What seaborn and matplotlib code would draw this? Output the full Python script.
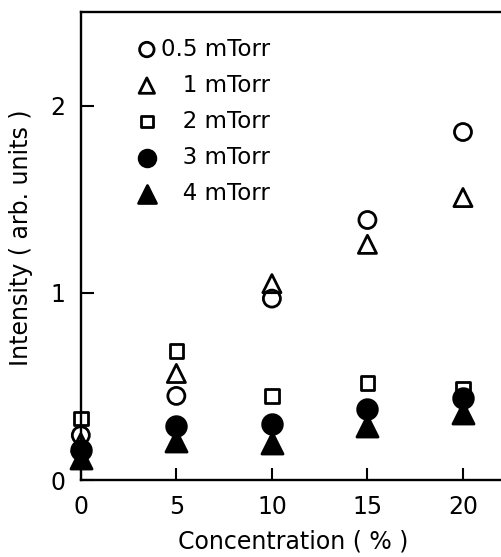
import matplotlib as mpl
import matplotlib.pyplot as plt
import pandas as pd
import seaborn as sns

mpl.use("Agg")

# Data
concentration = [0, 5, 10, 15, 20]
p05_mtorr = [0.24, 0.45, 0.97, 1.39, 1.86]
p1_mtorr = [0.20, 0.57, 1.05, 1.26, 1.51]
p2_mtorr = [0.33, 0.69, 0.45, 0.52, 0.49]
p3_mtorr = [0.16, 0.29, 0.30, 0.38, 0.44]
p4_mtorr = [0.12, 0.21, 0.20, 0.29, 0.36]

series_labels = ["0.5 mTorr", "   1 mTorr", "   2 mTorr", "   3 mTorr", "   4 mTorr"]
series_values = [p05_mtorr, p1_mtorr, p2_mtorr, p3_mtorr, p4_mtorr]
series_markers = ["o", "^", "s", "o", "^"]
series_filled = [False, False, False, True, True]
series_sizes = [150, 170, 95, 200, 230]


def main():
    sns.set_theme(
        style="ticks",
        rc={
            "text.color": "black",
            "axes.labelcolor": "black",
            "xtick.color": "black",
            "ytick.color": "black",
            "axes.edgecolor": "black",
        },
    )
    plt.rcParams["font.family"] = ["DejaVu Sans"]

    fig = plt.figure(figsize=(5.02, 5.57), dpi=100)
    ax = fig.add_axes([0.161, 0.138, 0.845, 0.840])

    for label, values, marker, filled, size in zip(
        series_labels, series_values, series_markers, series_filled, series_sizes
    ):
        df = pd.DataFrame({"Concentration": concentration, "Intensity": values})
        sns.scatterplot(
            data=df,
            x="Concentration",
            y="Intensity",
            marker=marker,
            s=size,
            facecolor="black" if filled else "none",
            edgecolor="black",
            linewidth=2.0,
            label=label,
            clip_on=False,
            zorder=3,
            ax=ax,
        )

    ax.set_xlim(0, 22.2)
    ax.set_ylim(0, 2.5)
    ax.set_xticks([0, 5, 10, 15, 20])
    ax.set_yticks([0, 1, 2])
    ax.tick_params(direction="in", length=9, width=1.5, labelsize=17, pad=11)
    for side in ["left", "bottom", "top"]:
        ax.spines[side].set_linewidth(1.7)
    ax.spines["right"].set_visible(False)

    ax.set_xlabel("Concentration ( % )", fontsize=17, labelpad=7)
    ax.set_ylabel("Intensity ( arb. units )", fontsize=17)
    ax.yaxis.set_label_coords(-0.113, 0.517)

    ax.legend(
        loc="upper left",
        bbox_to_anchor=(0.08, 0.99),
        frameon=False,
        fontsize=16.5,
        handlelength=1.0,
        handletextpad=0.1,
        labelspacing=0.57,
        markerscale=0.85,
    )

    fig.savefig("out.png", dpi=100)
    plt.close(fig)


if __name__ == "__main__":
    main()
